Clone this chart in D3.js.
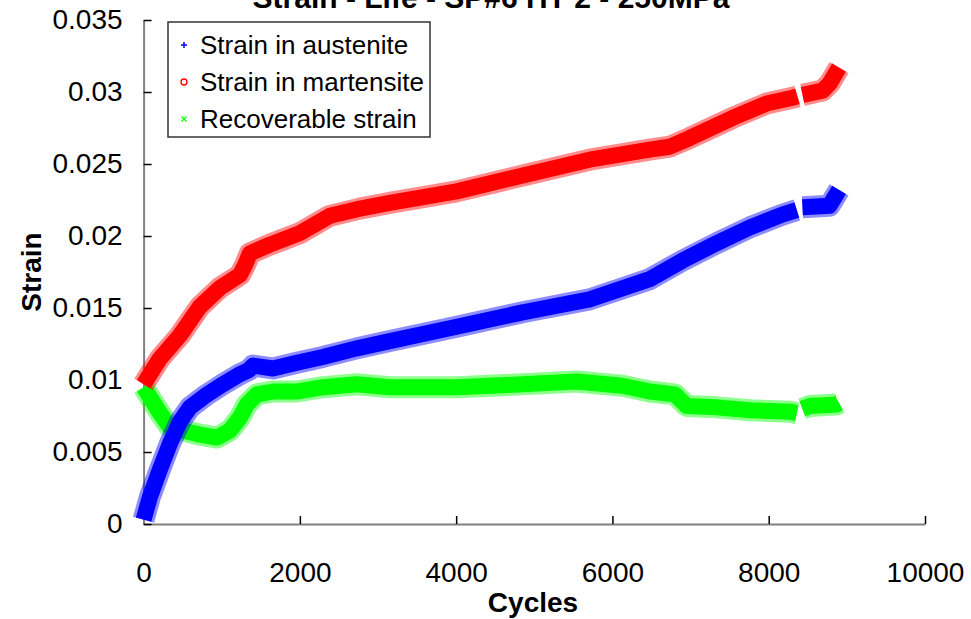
<!DOCTYPE html>
<html>
<head>
<meta charset="utf-8">
<script src="https://cdn.jsdelivr.net/npm/d3@7"></script>
<style>
body { margin: 0; background: #fff; }
svg { display: block; font-family: "Liberation Sans", Arial, sans-serif; }
</style>
</head>
<body>
<svg></svg>
<script>
// values (null = gap in the record)
const austeniteCycles = [0, 82, 210, 338, 465, 593, 813, 1015, 1233, 1350, 1400, 1655, 1962, 2294, 2729, 3151, 4007, 4852, 5708, 6476, 6900, 7333, 7760, 8182, 8360, null, 8432, 8777, 8867, 8900]
const austeniteStrain = [0.0003, 0.0019, 0.0038, 0.0056, 0.0071, 0.0081, 0.0090, 0.0097, 0.0104, 0.0107, 0.0110, 0.0108, 0.0112, 0.0116, 0.0122, 0.0127, 0.0137, 0.0147, 0.0156, 0.0170, 0.0183, 0.0195, 0.0206, 0.0215, 0.0218, null, 0.0220, 0.0221, 0.0229, 0.0232]

const martensiteCycles = [0, 210, 465, 721, 977, 1233, 1300, 1360, 1616, 2000, 2383, 2767, 3151, 4007, 4852, 5708, 6476, 6732, 6987, 7537, 7972, 8305, 8368, null, 8432, 8690, 8780, 8867, 8900]
const martensiteStrain = [0.0097, 0.0115, 0.0131, 0.0151, 0.0164, 0.0173, 0.0180, 0.0188, 0.0194, 0.0202, 0.0214, 0.0219, 0.0223, 0.0231, 0.0242, 0.0253, 0.0260, 0.0262, 0.0268, 0.0282, 0.0292, 0.0296, 0.0297, null, 0.0298, 0.0301, 0.0306, 0.0314, 0.0317]

const recoverableCycles = [0, 82, 210, 338, 504, 721, 939, 1105, 1233, 1322, 1450, 1655, 1962, 2294, 2729, 3151, 4007, 4852, 5542, 6130, 6476, 6800, 6950, 7333, 7760, 8271, 8360, null, 8430, 8527, 8867, 8900]
const recoverableStrain = [0.0095, 0.0088, 0.0077, 0.0067, 0.0065, 0.0062, 0.0060, 0.0065, 0.0074, 0.0083, 0.0090, 0.0092, 0.0092, 0.0095, 0.0097, 0.0095, 0.0095, 0.0097, 0.0099, 0.0096, 0.0092, 0.0090, 0.0082, 0.0081, 0.0079, 0.0078, 0.0077, null, 0.0080, 0.0082, 0.0083, 0.0084]

const seriesNames = ["Strain in austenite", "Strain in martensite", "Recoverable strain"]
const xTicks = [0, 2000, 4000, 6000, 8000, 10000]
const yTicks = [0, 0.005, 0.01, 0.015, 0.02, 0.025, 0.03, 0.035]
const yTickLabels = ["0", "0.005", "0.01", "0.015", "0.02", "0.025", "0.03", "0.035"]

let width = 971
let height = 619
let plotLeft = 143.6
let plotRight = 925
let plotTop = 20
let plotBottom = 524

let svg = d3.select("svg")
svg.attr("width", width).attr("height", height)

let xScale = d3.scaleLinear().domain([0, 10000]).range([plotLeft, plotRight])
let yScale = d3.scaleLinear().domain([0, 0.035]).range([plotBottom, plotTop])

const toPoints = (cycles, strain) => cycles.map((c, i) => [c, strain[i]])

const series = [
    { name: seriesNames[0], color: "#0000ff", points: toPoints(austeniteCycles, austeniteStrain) },
    { name: seriesNames[1], color: "#ff0000", points: toPoints(martensiteCycles, martensiteStrain) },
    { name: seriesNames[2], color: "#00ff00", points: toPoints(recoverableCycles, recoverableStrain) }
]

const drawAxes = () => {
    let xAxis = d3.axisBottom(xScale)
                  .tickValues(xTicks)
                  .tickFormat(d3.format("d"))
                  .tickSizeInner(-8)
                  .tickSizeOuter(0)
                  .tickPadding(38)
    let yAxis = d3.axisLeft(yScale)
                  .tickValues(yTicks)
                  .tickFormat((d, i) => yTickLabels[i])
                  .tickSizeInner(-8)
                  .tickSizeOuter(0)
                  .tickPadding(21)

    let gx = svg.append("g")
        .attr("id", "x-axis")
        .attr("transform", "translate(0, " + plotBottom + ")")
        .call(xAxis)
    let gy = svg.append("g")
        .attr("id", "y-axis")
        .attr("transform", "translate(" + plotLeft + ", 0)")
        .call(yAxis)

    for (let g of [gx, gy]) {
        g.select(".domain").attr("stroke", "#808080").attr("stroke-width", 2)
        g.selectAll(".tick line").attr("stroke", "#000").attr("stroke-width", 1.5)
        g.selectAll(".tick text").attr("fill", "#000").style("font-size", "28px")
    }
    gx.selectAll(".tick text").attr("dy", "0.71em")
}

const drawSeries = () => {
    let line = d3.line()
                 .defined(d => d[0] !== null)
                 .x(d => xScale(d[0]))
                 .y(d => yScale(d[1]))
                 .curve(d3.curveLinear)

    // green underneath, blue on top as in the picture
    let order = [series[2], series[1], series[0]]
    let g = svg.append("g")
    order.forEach(s => {
        g.append("path")
            .attr("d", line(s.points))
            .attr("fill", "none")
            .attr("stroke", s.color)
            .attr("stroke-opacity", 0.45)
            .attr("stroke-width", 22)
            .attr("stroke-linejoin", "round")
        g.append("path")
            .attr("d", line(s.points))
            .attr("fill", "none")
            .attr("stroke", s.color)
            .attr("stroke-width", 16)
            .attr("stroke-linejoin", "round")
    })
}

const drawMarker = (g, i, x, y, color) => {
    if (i === 0) {
        g.append("path").attr("d", `M${x - 3},${y}H${x + 3}M${x},${y - 3}V${y + 3}`)
            .attr("stroke", color).attr("stroke-width", 1.5)
    } else if (i === 1) {
        g.append("circle").attr("cx", x).attr("cy", y).attr("r", 3)
            .attr("fill", "none").attr("stroke", color).attr("stroke-width", 1.3)
    } else {
        g.append("path").attr("d", `M${x - 2.5},${y - 2.5}L${x + 2.5},${y + 2.5}M${x - 2.5},${y + 2.5}L${x + 2.5},${y - 2.5}`)
            .attr("stroke", color).attr("stroke-width", 1.3)
    }
}

const drawLegend = () => {
    let g = svg.append("g")
    g.append("rect")
        .attr("x", 168).attr("y", 22)
        .attr("width", 262).attr("height", 115)
        .attr("fill", "#fff")
        .attr("stroke", "#333").attr("stroke-width", 1.5)
    series.forEach((s, i) => {
        let y = 45 + i * 37
        drawMarker(g, i, 184, y, s.color)
        g.append("text")
            .attr("x", 200).attr("y", y + 9)
            .style("font-size", "26px")
            .text(s.name)
    })
}

const drawTitles = () => {
    svg.append("text")
        .attr("x", 491).attr("y", 8)
        .attr("text-anchor", "middle")
        .style("font-size", "30px").style("font-weight", "bold")
        .text("Strain - Life - SP#6 HT 2 - 250MPa")
    svg.append("text")
        .attr("x", 533).attr("y", 612)
        .attr("text-anchor", "middle")
        .style("font-size", "28px").style("font-weight", "bold")
        .text("Cycles")
    svg.append("text")
        .attr("transform", "translate(41, 272) rotate(-90)")
        .attr("text-anchor", "middle")
        .style("font-size", "28px").style("font-weight", "bold")
        .text("Strain")
}

drawAxes()
drawSeries()
drawLegend()
drawTitles()
</script>
</body>
</html>
